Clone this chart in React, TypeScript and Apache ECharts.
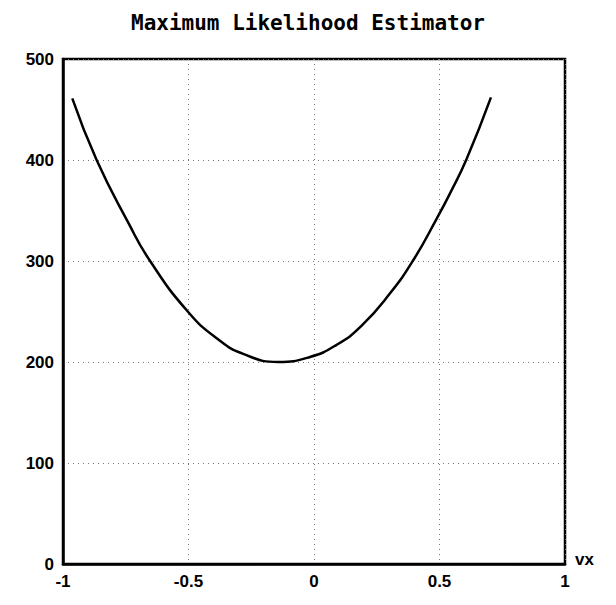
import React, { useEffect, useRef } from "react";
import * as echarts from "echarts";

const titleText = "Maximum Likelihood Estimator";
const xName = "vx";
const curveX = [-0.963, -0.866, -0.74, -0.653, -0.503, -0.385, -0.282, -0.142, -0.016, 0.09, 0.19, 0.303, 0.396, 0.489, 0.542, 0.608, 0.705];
const curveY = [461, 400, 338, 300, 250, 223, 208, 200, 205, 217, 236, 268, 301, 342, 367, 401, 462];
const xTicks = [-1, -0.5, 0, 0.5, 1];
const yTicks = [0, 100, 200, 300, 400, 500];

export default function App() {
  const ref = useRef<HTMLDivElement>(null);
  useEffect(() => {
    if (!ref.current) return;
    const chart = echarts.init(ref.current, null, { renderer: "svg" });
    const data = curveX.map((x, i) => [x, curveY[i]]);
    const labelFont = {
      fontFamily: "Liberation Sans, Arial, sans-serif",
      fontWeight: "bold" as const,
      fontSize: 17,
      color: "#000",
    };
    const gridLine = { show: true, lineStyle: { color: "#777", width: 1, type: [1, 4] as any } };
    chart.setOption({
      animation: false,
      backgroundColor: "#fff",
      title: {
        text: titleText,
        left: "center",
        top: 7,
        textStyle: {
          fontFamily: "DejaVu Sans Mono, monospace",
          fontWeight: "bold",
          fontSize: 21,
          color: "#000",
        },
      },
      grid: {
        left: 63,
        right: 51,
        top: 59,
        bottom: 41,
        show: true,
        borderColor: "#000",
        borderWidth: 2.5,
        backgroundColor: "transparent",
      },
      xAxis: {
        type: "value",
        min: xTicks[0],
        max: xTicks[xTicks.length - 1],
        interval: 0.5,
        name: xName,
        nameLocation: "end",
        nameGap: 10,
        nameTextStyle: { ...labelFont, verticalAlign: "bottom", padding: [0, 0, -4, 0] },
        axisLine: { show: true, onZero: false, lineStyle: { color: "#000", width: 2.5 } },
        axisTick: { show: false },
        axisLabel: {
          ...labelFont,
          margin: 9,
          formatter: (v: number) => (v === 0 ? "0" : String(v)),
        },
        splitLine: gridLine,
      },
      yAxis: {
        type: "value",
        min: yTicks[0],
        max: yTicks[yTicks.length - 1],
        interval: 100,
        axisLine: { show: true, onZero: false, lineStyle: { color: "#000", width: 2.5 } },
        axisTick: { show: false },
        axisLabel: { ...labelFont, margin: 9 },
        splitLine: gridLine,
      },
      series: [
        {
          type: "line",
          data,
          smooth: 0.5,
          showSymbol: false,
          lineStyle: { color: "#000", width: 2.5 },
        },
      ],
    });
    return () => chart.dispose();
  }, []);
  return (
    <div
      ref={ref}
      style={{ position: "fixed", left: 0, top: 0, width: 616, height: 605, background: "#fff" }}
    />
  );
}
